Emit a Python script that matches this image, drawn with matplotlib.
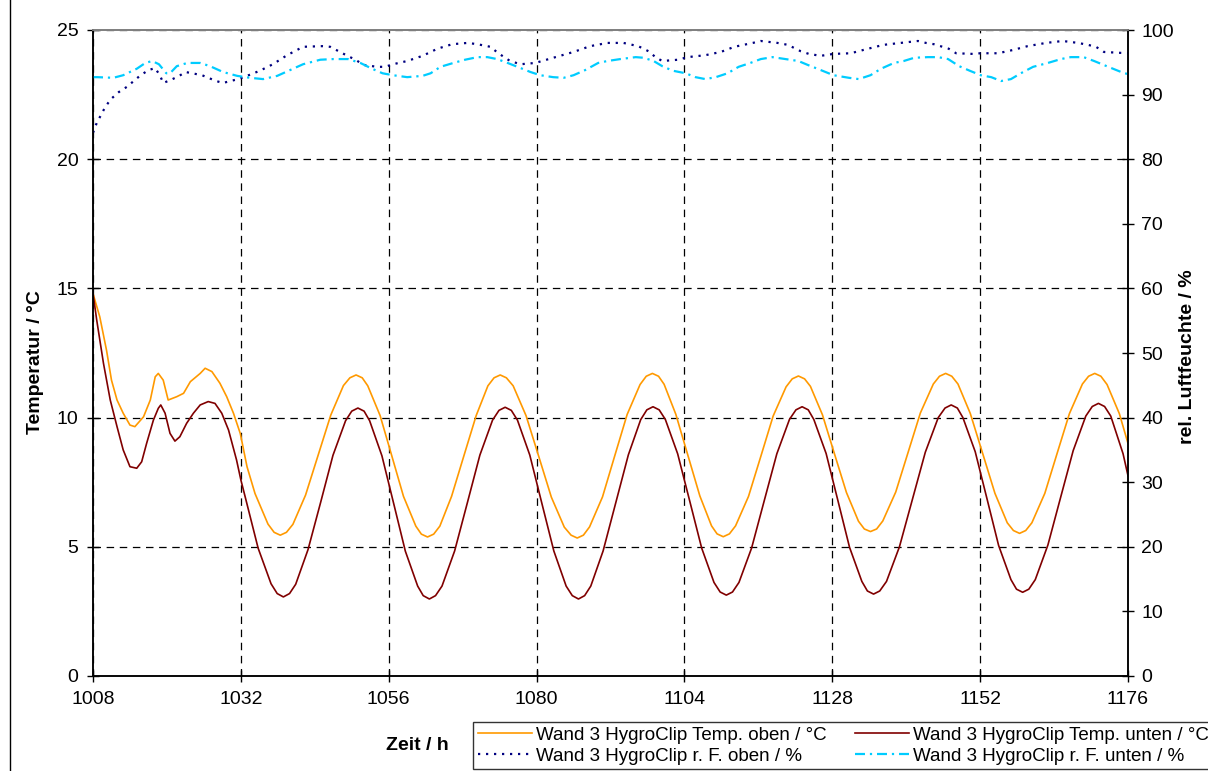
import matplotlib
matplotlib.use("Agg")
import matplotlib.pyplot as plt
from matplotlib.lines import Line2D

plt.rcParams['font.family'] = ['Liberation Sans', 'DejaVu Sans']

# ---- data ----
t_oben = [1008.0, 1009.1, 1010.2, 1011.0, 1011.9, 1012.9, 1014.0, 1014.8, 1016.2, 1017.3,
          1018.1, 1018.6, 1019.4, 1020.2, 1021.6, 1022.7, 1023.8, 1025.4, 1026.2, 1027.3,
          1028.6, 1029.7, 1030.8, 1031.9, 1033.0, 1034.3, 1036.4, 1037.4, 1038.4, 1039.4,
          1040.45, 1042.5, 1044.55, 1046.6, 1048.65, 1049.7, 1050.7, 1051.7,
          1052.6, 1054.6, 1056.5, 1058.4, 1060.4, 1061.3, 1062.3, 1063.3,
          1064.3, 1066.2, 1068.2, 1070.2, 1072.1, 1073.1, 1074.1, 1075.1,
          1076.2, 1078.3, 1080.35, 1082.4, 1084.5, 1085.6, 1086.6, 1087.6,
          1088.6, 1090.7, 1092.7, 1094.7, 1096.8, 1097.8, 1098.8, 1099.8,
          1100.7, 1102.6, 1104.55, 1106.5, 1108.4, 1109.3, 1110.3, 1111.3,
          1112.3, 1114.4, 1116.4, 1118.4, 1120.5, 1121.5, 1122.5, 1123.5,
          1124.45, 1126.4, 1128.35, 1130.3, 1132.25, 1133.2, 1134.2, 1135.2,
          1136.2, 1138.3, 1140.3, 1142.3, 1144.4, 1145.4, 1146.4, 1147.4,
          1148.4, 1150.4, 1152.4, 1154.4, 1156.4, 1157.4, 1158.4, 1159.4,
          1160.4, 1162.5, 1164.5, 1166.5, 1168.6, 1169.6, 1170.6, 1171.6,
          1172.6, 1174.6, 1176.0]
temp_oben = [14.8, 13.9, 12.6, 11.45, 10.68, 10.17, 9.71, 9.65, 10.03, 10.68,
             11.58, 11.71, 11.45, 10.68, 10.81, 10.94, 11.39, 11.71, 11.91, 11.78,
             11.33, 10.81, 10.17, 9.39, 8.1, 7.06, 5.88, 5.56, 5.45, 5.56,
             5.87, 7.0, 8.55, 10.1, 11.24, 11.54, 11.65, 11.54,
             11.23, 10.08, 8.52, 6.95, 5.80, 5.49, 5.38, 5.49,
             5.80, 6.95, 8.52, 10.08, 11.23, 11.54, 11.65, 11.54,
             11.23, 10.07, 8.50, 6.92, 5.76, 5.45, 5.34, 5.45,
             5.77, 6.93, 8.53, 10.12, 11.28, 11.60, 11.71, 11.60,
             11.29, 10.13, 8.55, 6.97, 5.81, 5.50, 5.39, 5.50,
             5.81, 6.95, 8.50, 10.06, 11.19, 11.50, 11.61, 11.50,
             11.21, 10.11, 8.60, 7.10, 5.99, 5.69, 5.59, 5.69,
             6.00, 7.12, 8.65, 10.18, 11.30, 11.60, 11.71, 11.60,
             11.30, 10.16, 8.62, 7.07, 5.93, 5.63, 5.52, 5.63,
             5.93, 7.07, 8.62, 10.16, 11.30, 11.60, 11.71, 11.60,
             11.28, 10.15, 9.0]

t_unten = [1008.0, 1008.6, 1009.7, 1010.8, 1011.9, 1012.9, 1014.0, 1015.1, 1015.9, 1016.7,
           1017.8, 1018.6, 1019.0, 1019.7, 1020.5, 1021.3, 1022.1, 1023.2, 1024.3, 1025.4,
           1026.7, 1027.8, 1028.9, 1030.0, 1031.3, 1032.0,
           1032.8, 1034.8, 1036.9, 1037.9, 1038.9, 1039.9,
           1040.9, 1042.9, 1044.95, 1046.95, 1049.0, 1050.0, 1051.0, 1052.0,
           1052.9, 1054.9, 1056.8, 1058.7, 1060.7, 1061.6, 1062.6, 1063.6,
           1064.65, 1066.7, 1068.75, 1070.8, 1072.85, 1073.9, 1074.9, 1075.9,
           1076.9, 1078.9, 1080.85, 1082.8, 1084.8, 1085.8, 1086.8, 1087.8,
           1088.8, 1090.8, 1092.85, 1094.9, 1096.9, 1097.9, 1098.9, 1099.9,
           1100.9, 1102.9, 1104.85, 1106.8, 1108.8, 1109.8, 1110.8, 1111.8,
           1112.85, 1114.9, 1116.95, 1119.0, 1121.05, 1122.1, 1123.1, 1124.1,
           1125.0, 1127.0, 1128.9, 1130.8, 1132.8, 1133.7, 1134.7, 1135.7,
           1136.8, 1138.9, 1141.0, 1143.1, 1145.2, 1146.3, 1147.3, 1148.3,
           1149.2, 1151.2, 1153.1, 1155.0, 1157.0, 1157.9, 1158.9, 1159.9,
           1160.95, 1163.0, 1165.05, 1167.1, 1169.15, 1170.2, 1171.2, 1172.2,
           1173.2, 1175.2, 1176.0]
temp_unten = [14.81, 13.78, 12.1, 10.68, 9.65, 8.75, 8.1, 8.04, 8.29, 9.0,
              9.9, 10.36, 10.49, 10.17, 9.39, 9.09, 9.26, 9.78, 10.17, 10.49,
              10.62, 10.55, 10.17, 9.52, 8.36, 7.59,
              6.84, 4.95, 3.57, 3.19, 3.06, 3.19,
              3.55, 4.89, 6.72, 8.54, 9.88, 10.25, 10.37, 10.25,
              9.88, 8.52, 6.68, 4.83, 3.48, 3.11, 2.98, 3.11,
              3.48, 4.84, 6.69, 8.55, 9.90, 10.28, 10.40, 10.28,
              9.90, 8.55, 6.69, 4.84, 3.48, 3.11, 2.98, 3.11,
              3.48, 4.84, 6.70, 8.56, 9.92, 10.30, 10.42, 10.30,
              9.93, 8.60, 6.78, 4.95, 3.62, 3.25, 3.13, 3.25,
              3.62, 4.95, 6.78, 8.60, 9.93, 10.30, 10.42, 10.30,
              9.93, 8.61, 6.80, 4.98, 3.66, 3.29, 3.17, 3.29,
              3.66, 5.00, 6.83, 8.66, 10.00, 10.37, 10.49, 10.37,
              10.00, 8.68, 6.87, 5.05, 3.73, 3.36, 3.24, 3.36,
              3.73, 5.07, 6.90, 8.72, 10.06, 10.43, 10.55, 10.43,
              10.06, 8.6, 7.75]

t_rf_oben = [1008.0, 1008.6, 1010.0, 1010.9, 1012.2, 1013.5, 1015.6, 1017.0, 1018.1, 1018.9,
             1019.4, 1020.7, 1022.0, 1023.0, 1024.1, 1025.7, 1026.7, 1028.0, 1029.1, 1030.3,
             1031.6, 1033.0, 1035.1, 1037.2, 1039.5, 1042.1, 1045.2, 1046.5, 1049.3, 1050.6,
             1051.9, 1054.1, 1055.4, 1056.7, 1059.0, 1061.5, 1063.9, 1066.3, 1068.8, 1070.4,
             1072.5, 1073.8, 1075.7, 1077.4, 1079.8, 1082.7, 1086.0, 1088.7, 1091.5, 1094.1,
             1096.5, 1098.2, 1099.3, 1100.4, 1103.0, 1104.5, 1107.4, 1109.9, 1112.1, 1115.1,
             1116.4, 1119.1, 1120.8, 1122.9, 1124.2, 1126.1, 1128.2, 1131.0, 1133.8, 1136.3,
             1139.1, 1141.9, 1143.2, 1144.5, 1145.9, 1146.9, 1148.1, 1150.8, 1152.1, 1154.9,
             1157.3, 1159.7, 1162.7, 1165.4, 1167.9, 1169.5, 1170.8, 1172.1, 1176.0]
rf_oben = [84.1, 85.6, 88.1, 89.3, 90.4, 91.2, 92.9, 93.8, 94.1, 92.9,
           91.8, 92.3, 92.9, 93.5, 93.3, 93.0, 92.6, 92.1, 91.8, 92.1,
           92.4, 92.9, 93.7, 94.7, 96.1, 97.4, 97.5, 97.4, 96.0, 95.4,
           94.6, 94.3, 94.3, 94.7, 95.2, 96.0, 97.1, 97.8, 98.0, 97.8,
           97.4, 96.4, 95.2, 94.7, 94.9, 95.7, 96.6, 97.5, 98.0, 98.0,
           97.5, 96.7, 95.8, 95.2, 95.4, 95.8, 96.1, 96.6, 97.4, 98.0,
           98.3, 98.0, 97.7, 96.7, 96.3, 96.0, 96.3, 96.4, 97.1, 97.7,
           98.0, 98.3, 98.0, 97.8, 97.4, 97.1, 96.4, 96.3, 96.4, 96.4,
           96.9, 97.5, 98.0, 98.3, 98.0, 97.7, 97.4, 96.6, 96.4]

t_rf_unten = [1008.0, 1008.7, 1011.3, 1012.9, 1015.1, 1016.5, 1017.6, 1018.7, 1019.9, 1020.5,
              1021.6, 1023.3, 1025.4, 1027.0, 1029.1, 1031.4, 1033.5, 1035.6, 1037.9, 1040.0,
              1042.1, 1044.9, 1047.0, 1049.4, 1051.4, 1053.3, 1055.0, 1056.7, 1059.0, 1061.5,
              1062.8, 1064.4, 1066.5, 1068.4, 1070.4, 1072.0, 1073.6, 1075.3, 1076.9, 1079.0,
              1080.6, 1082.7, 1084.4, 1086.0, 1087.9, 1090.0, 1091.5, 1093.6, 1096.1, 1097.4,
              1099.0, 1100.4, 1102.1, 1104.2, 1105.8, 1107.4, 1109.1, 1111.0, 1112.8, 1114.7,
              1116.4, 1118.3, 1120.4, 1122.5, 1124.0, 1125.6, 1128.2, 1130.7, 1132.3, 1134.2,
              1135.9, 1138.0, 1139.6, 1141.3, 1143.5, 1145.2, 1146.8, 1148.6, 1150.3, 1152.1,
              1153.8, 1155.4, 1157.0, 1158.6, 1160.6, 1163.0, 1165.1, 1166.7, 1168.8, 1170.5,
              1172.8, 1175.4, 1176.0]
rf_unten = [92.7, 92.7, 92.6, 93.0, 94.0, 94.9, 95.2, 94.7, 93.3, 93.3,
            94.4, 94.9, 94.9, 94.4, 93.5, 92.9, 92.6, 92.4, 92.9, 93.8,
            94.7, 95.4, 95.5, 95.5, 94.9, 94.0, 93.3, 93.0, 92.7, 92.9,
            93.3, 94.3, 94.9, 95.4, 95.8, 95.8, 95.5, 94.9, 94.3, 93.5,
            93.0, 92.7, 92.6, 93.0, 93.8, 94.9, 95.2, 95.5, 95.8, 95.7,
            95.2, 94.4, 93.7, 93.3, 92.7, 92.4, 92.7, 93.3, 94.3, 94.9,
            95.5, 95.8, 95.5, 95.2, 94.6, 94.0, 93.0, 92.6, 92.4, 93.0,
            94.0, 94.9, 95.2, 95.7, 95.8, 95.8, 95.5, 94.4, 93.7, 93.0,
            92.7, 92.1, 92.4, 93.3, 94.3, 94.9, 95.5, 95.8, 95.8, 95.2,
            94.3, 93.3, 93.2]

x_ticks = [1008, 1032, 1056, 1080, 1104, 1128, 1152, 1176]
y_left_ticks = [0, 5, 10, 15, 20, 25]
y_right_ticks = [0, 10, 20, 30, 40, 50, 60, 70, 80, 90, 100]

labels = ["Wand 3 HygroClip Temp. oben / °C",
          "Wand 3 HygroClip Temp. unten / °C",
          "Wand 3 HygroClip r. F. oben / %",
          "Wand 3 HygroClip r. F. unten / %"]

c_oben = "#FF9900"
c_unten = "#800000"
c_rf_oben = "#000080"
c_rf_unten = "#00CCFF"

W, H = 1208, 771
fig = plt.figure(figsize=(W / 100, H / 100), dpi=100)
ax = fig.add_axes([93 / W, 1 - 676 / H, (1128 - 93) / W, (676 - 30) / H])
ax2 = ax.twinx()

ax.set_xlim(1008, 1176)
ax.set_ylim(0, 25)
ax2.set_ylim(0, 100)

ax.set_xticks(x_ticks)
ax.set_yticks(y_left_ticks)
ax2.set_yticks(y_right_ticks)

grid_kw = dict(color="black", linewidth=0.9, linestyle=(0, (6, 4.5)))
ax.grid(True, axis="both", **grid_kw)
ax.set_axisbelow(True)

ls_temp = 1.2
l1, = ax.plot(t_oben, temp_oben, color=c_oben, lw=ls_temp)
l2, = ax.plot(t_unten, temp_unten, color=c_unten, lw=ls_temp)
l3, = ax2.plot(t_rf_oben, rf_oben, color=c_rf_oben, lw=1.6, linestyle=(0, (1, 2.6)))
l4, = ax2.plot(t_rf_unten, rf_unten, color=c_rf_unten, lw=1.6, linestyle=(0, (4.5, 2.2, 1, 2.2)))

for a in (ax, ax2):
    a.tick_params(direction="inout", length=9, width=1, labelsize=14, color="black")
    for s in ("left", "right", "bottom"):
        a.spines[s].set_color("black")
        a.spines[s].set_linewidth(1.1)
    a.spines["top"].set_color("#808080")
    a.spines["top"].set_linewidth(1.3)
ax.tick_params(axis="x", pad=6)
ax.tick_params(axis="y", pad=6)
ax2.tick_params(axis="y", pad=5)

fig.text(35 / W, 1 - 362 / H, "Temperatur / °C", rotation=90, ha="center", va="center",
         fontsize=14, fontweight="bold")
fig.text(1188 / W, 1 - 357 / H, "rel. Luftfeuchte / %", rotation=90, ha="center", va="center",
         fontsize=14, fontweight="bold")
fig.text(417 / W, 1 - 746 / H, "Zeit / h", ha="center", va="center",
         fontsize=14, fontweight="bold")

leg = fig.legend([l1, l3, l2, l4], [labels[0], labels[2], labels[1], labels[3]],
                 ncol=2, loc="upper left", bbox_to_anchor=(473 / W, 1 - 722 / H),
                 frameon=True, fancybox=False, fontsize=13.5, handlelength=2.9,
                 handletextpad=0.2, columnspacing=1.5, borderpad=0.25, labelspacing=0.2,
                 borderaxespad=0)
leg.get_frame().set_edgecolor("black")
leg.get_frame().set_linewidth(1.0)

fig.add_artist(Line2D([10 / W, 10 / W], [0, 1], transform=fig.transFigure,
                      color="black", lw=1.0))

fig.savefig("out.png", dpi=100)
